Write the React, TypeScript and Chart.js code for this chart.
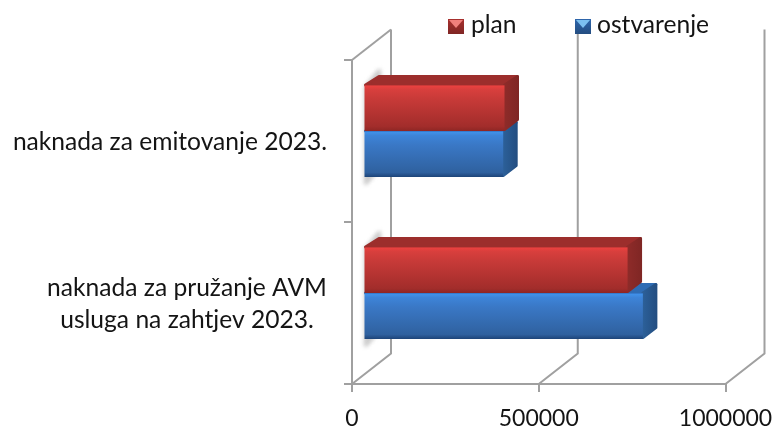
import React, { useEffect, useRef } from "react";
import { Chart, registerables } from "chart.js";

Chart.register(...registerables);

const categories = ["naknada za emitovanje 2023.", "naknada za pružanje AVM|usluga na zahtjev 2023."];
const planValues = [377500, 707000];
const ostvarenjeValues = [374000, 748000];
const xTicks = [0, 500000, 1000000];
const seriesNames = ["plan", "ostvarenje"];

const FONT = "Lato, Carlito, sans-serif";
const GRID = "#a0a0a0";
const TEXT = "#141414";
const LABEL_CENTRES = [170, 187];

type Pal = { stops: [number, string][]; top: string; side: string; sideDark: string; legendLight: string; legendDark: string };
const RED: Pal = {
  stops: [[0, "#b93433"], [0.03, "#e8413f"], [0.1, "#d83f3d"], [0.3, "#c83a38"], [0.9, "#a22d2b"], [1, "#8e2624"]],
  top: "#9c2e2c",
  side: "#8e2b29",
  sideDark: "#7f2624",
  legendLight: "#f0807c",
  legendDark: "#a8302e",
};
const BLUE: Pal = {
  stops: [[0, "#2f6fc0"], [0.03, "#4090e8"], [0.1, "#3d84d8"], [0.3, "#3a78c6"], [0.9, "#2f619f"], [1, "#1d4478"]],
  top: "#2f6cb4",
  side: "#2c6099",
  sideDark: "#234d80",
  legendLight: "#7cc0f0",
  legendDark: "#2e66ac",
};
const PALS = [RED, BLUE];

const DX = 11.5;
const DY = -10;
const DEPTH_X = 14.5;
const DEPTH_Y = -10;
const WALL_X = 39;
const WALL_Y = -30.5;

function poly(ctx: CanvasRenderingContext2D, pts: number[][], fill: string | CanvasGradient, lw = 2) {
  ctx.beginPath();
  pts.forEach((p, i) => (i ? ctx.lineTo(p[0], p[1]) : ctx.moveTo(p[0], p[1])));
  ctx.closePath();
  ctx.fillStyle = fill;
  ctx.strokeStyle = fill;
  ctx.lineJoin = "round";
  ctx.lineWidth = lw;
  ctx.fill();
  ctx.stroke();
}

const wallPlugin = {
  id: "wall3d",
  beforeDatasetsDraw(chart: any) {
    const { ctx, scales, chartArea } = chart;
    const { x } = scales;
    ctx.save();
    ctx.strokeStyle = GRID;
    ctx.lineWidth = 2;
    const top = chartArea.top;
    const bottom = chartArea.bottom;
    x.ticks.forEach((_t: any, i: number) => {
      const px = x.getPixelForTick(i);
      ctx.beginPath();
      ctx.moveTo(px, bottom);
      ctx.lineTo(px + WALL_X, bottom + WALL_Y);
      ctx.lineTo(px + WALL_X, top + WALL_Y);
      ctx.stroke();
    });
    const x0 = x.getPixelForTick(0);
    ctx.beginPath();
    ctx.moveTo(x0, top);
    ctx.lineTo(x0 + WALL_X, top + WALL_Y);
    ctx.stroke();
    ctx.restore();

    const meta = chart.getDatasetMeta(0);
    const meta2 = chart.getDatasetMeta(1);
    meta.data.forEach((el: any, i: number) => {
      const b = meta2.data[i];
      const left = el.base + DX;
      const t = el.y - el.height / 2 + DY;
      const bt = b.y + b.height / 2 + DY;
      ctx.save();
      ctx.filter = "blur(2px)";
      poly(ctx, [[left + 1, t + 2], [left + 15, t - 15], [left + 15, bt - 9], [left + 1, bt + 7]], "#c4c4c4");
      ctx.restore();
    });

    ctx.save();
    ctx.translate(DX, DY);
    [1, 0].forEach((ds) => {
      const pal = PALS[ds];
      chart.getDatasetMeta(ds).data.forEach((el: any) => {
        const t = el.y - el.height / 2;
        const b = el.y + el.height / 2;
        const l = el.base;
        const r = el.x;
        poly(ctx, [[l + 1, t], [l + DEPTH_X, t + DEPTH_Y + 1.5], [r + DEPTH_X - 1.5, t + DEPTH_Y + 1.5], [r, t]], pal.top, 3);
        const g = ctx.createLinearGradient(r, 0, r + DEPTH_X, 0);
        g.addColorStop(0, pal.side);
        g.addColorStop(1, pal.sideDark);
        poly(ctx, [[r, t], [r + DEPTH_X - 1.5, t + DEPTH_Y + 1.5], [r + DEPTH_X - 1.5, b + DEPTH_Y - 1.5], [r, b - 1.5]], g, 3);
        const sg = ctx.createLinearGradient(0, t, 0, b);
        pal.stops.forEach(([o, c]) => sg.addColorStop(o, c));
        el.options = { ...el.options, backgroundColor: sg };
      });
    });
  },
  afterDatasetsDraw(chart: any) {
    const { ctx } = chart;
    ctx.restore();
    ctx.save();
    ctx.font = `24.6px ${FONT}`;
    ctx.fillStyle = TEXT;
    ctx.textAlign = "center";
    ctx.textBaseline = "alphabetic";
    const y = chart.scales.y;
    categories.forEach((label, i) => {
      const lines = label.split("|");
      const cy = y.getPixelForTick(i);
      lines.forEach((line, j) => {
        const off = lines.length > 1 ? -7 + j * 32 : 8.6;
        ctx.fillText(line, LABEL_CENTRES[i], cy + off);
      });
    });
    const legendX = [448, 575];
    const legendTextX = [471, 597];
    seriesNames.forEach((name, i) => {
      const pal = PALS[i];
      const lx = legendX[i];
      const ly = 19;
      const w = 16;
      const h = 15;
      const g = ctx.createLinearGradient(0, ly, 0, ly + h);
      g.addColorStop(0, pal.legendDark);
      g.addColorStop(1, pal.sideDark);
      ctx.fillStyle = g;
      ctx.fillRect(lx, ly, w, h);
      ctx.beginPath();
      ctx.moveTo(lx + 1, ly + 1);
      ctx.lineTo(lx + w - 1, ly + 1);
      ctx.lineTo(lx + w / 2, ly + 9);
      ctx.closePath();
      ctx.fillStyle = pal.legendLight;
      ctx.fill();
      ctx.fillStyle = TEXT;
      ctx.textAlign = "left";
      ctx.font = `24.6px ${FONT}`;
      ctx.fillText(name, legendTextX[i], 33);
    });
    ctx.restore();
  },
};

export default function App() {
  const ref = useRef<HTMLCanvasElement>(null);
  useEffect(() => {
    const chart = new Chart(ref.current as HTMLCanvasElement, {
      type: "bar",
      data: {
        labels: categories.map((c) => c.replace("|", " ")),
        datasets: [
          { label: seriesNames[0], data: planValues, backgroundColor: "#c83a38", borderWidth: 0 },
          { label: seriesNames[1], data: ostvarenjeValues, backgroundColor: "#3a78c6", borderWidth: 0 },
        ],
      },
      options: {
        indexAxis: "y",
        responsive: false,
        animation: false,
        layout: { padding: { top: 60, right: 48.5, bottom: 0, left: 0 } },
        plugins: { legend: { display: false }, tooltip: { enabled: false } },
        datasets: { bar: { barPercentage: 1, categoryPercentage: 0.568 } },
        scales: {
          x: {
            min: 0,
            max: 1000000,
            afterBuildTicks: (s: any) => {
              s.ticks = xTicks.map((value) => ({ value }));
            },
            afterFit: (s: any) => {
              s.height = 44;
              s.paddingLeft = 0;
              s.paddingRight = 0;
            },
            grid: { drawOnChartArea: false, color: GRID, lineWidth: 2, tickLength: 8 },
            border: { color: GRID, width: 2 },
            ticks: {
              color: TEXT,
              font: { family: FONT, size: 23 },
              padding: 13,
              maxRotation: 0,
              autoSkip: false,
              callback: (v: any) => String(v),
            },
          },
          y: {
            afterFit: (s: any) => {
              s.width = 352;
            },
            grid: { drawOnChartArea: false, color: GRID, lineWidth: 2, tickLength: 8 },
            border: { color: GRID, width: 2 },
            ticks: { display: false },
          },
        },
      },
      plugins: [wallPlugin],
    } as any);
    return () => chart.destroy();
  }, []);
  return (
    <div style={{ position: "absolute", left: 0, top: 0, width: 774, height: 428, background: "#fff" }}>
      <canvas ref={ref} width={774} height={428} style={{ display: "block" }} />
    </div>
  );
}
